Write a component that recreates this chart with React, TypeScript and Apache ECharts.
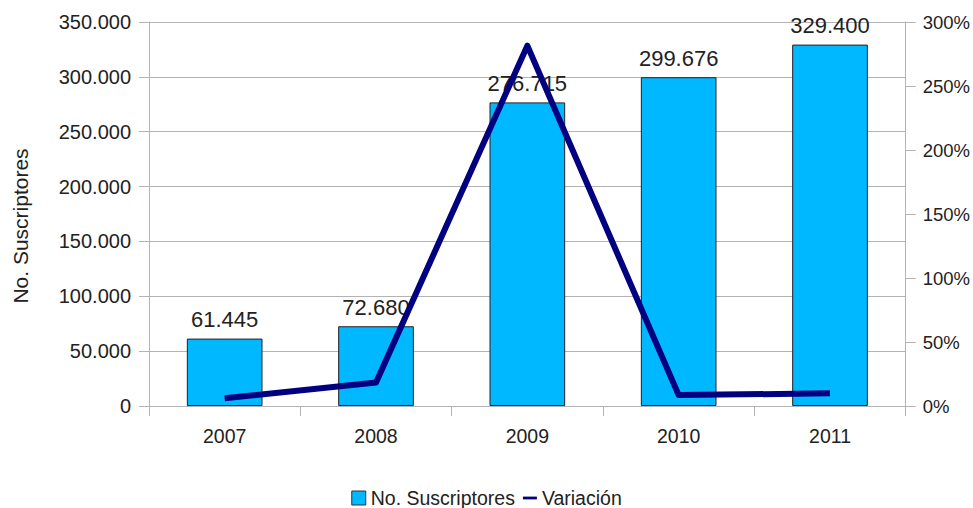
import React, { useEffect, useRef } from "react";
import * as echarts from "echarts";

const years = ["2007", "2008", "2009", "2010", "2011"];
const suscriptores = [61445, 72680, 276715, 299676, 329400];
const variacion = [6, 18.3, 281.5, 8.5, 9.9];

const fmtThousands = (v: number) =>
  String(Math.round(v)).replace(/\B(?=(\d{3})+(?!\d))/g, ".");

export default function App() {
  const ref = useRef<HTMLDivElement>(null);
  useEffect(() => {
    if (!ref.current) return;
    const chart = echarts.init(ref.current, undefined, { renderer: "svg" });
    const font = "Liberation Sans, Arial, sans-serif";
    chart.setOption({
      animation: false,
      textStyle: { fontFamily: font },
      grid: { left: 149, right: 67, top: 22, bottom: 102, containLabel: false },
      legend: {
        bottom: 0,
        left: "center",
        padding: 0,
        itemGap: 8,
        itemWidth: 14,
        itemHeight: 14,
        textStyle: { fontSize: 19.5, color: "#222", fontFamily: font },
        data: [
          { name: "No. Suscriptores", icon: "rect", itemStyle: { borderColor: "#333", borderWidth: 1 } },
          { name: "Variación", icon: "path://M0,5.5 L20,5.5 L20,9.5 L0,9.5 Z", itemStyle: { color: "#000080" } },
        ],
      },
      xAxis: {
        type: "category",
        data: years,
        axisLine: { show: true, lineStyle: { color: "#b3b3b3" } },
        axisTick: { show: true, length: 10, lineStyle: { color: "#b3b3b3" }, alignWithLabel: false },
        axisLabel: { fontSize: 19.5, color: "#222", margin: 20, fontFamily: font },
      },
      yAxis: [
        {
          type: "value",
          min: 0,
          max: 350000,
          interval: 50000,
          name: "No. Suscriptores",
          nameLocation: "middle",
          nameGap: 118,
          nameRotate: 90,
          nameTextStyle: { fontSize: 21, color: "#222", fontFamily: font, padding: [0, 24, 0, 0] },
          axisLine: { show: true, lineStyle: { color: "#b3b3b3" } },
          axisTick: { show: true, length: 10, lineStyle: { color: "#b3b3b3" } },
          axisLabel: { fontSize: 20, color: "#222", margin: 18, formatter: (v: number) => fmtThousands(v), fontFamily: font },
          splitLine: { show: true, lineStyle: { color: "#b3b3b3" } },
        },
        {
          type: "value",
          min: 0,
          max: 300,
          interval: 50,
          position: "right",
          axisLine: { show: true, lineStyle: { color: "#b3b3b3" } },
          axisTick: { show: true, length: 10, lineStyle: { color: "#b3b3b3" } },
          axisLabel: { fontSize: 18.5, color: "#222", margin: 17, formatter: "{value}%", fontFamily: font },
          splitLine: { show: false },
        },
      ],
      series: [
        {
          name: "No. Suscriptores",
          type: "bar",
          data: suscriptores,
          barWidth: "50%",
          itemStyle: { color: "#00b8ff", borderColor: "#222", borderWidth: 1 },
          label: {
            show: true,
            position: "top",
            distance: 8,
            fontSize: 22,
            color: "#222",
            fontFamily: font,
            formatter: (p: any) => fmtThousands(p.value),
          },
          z: 2,
        },
        {
          name: "Variación",
          type: "line",
          yAxisIndex: 1,
          data: variacion,
          showSymbol: false,
          symbol: "none",
          lineStyle: { color: "#000080", width: 6, join: "round" },
          itemStyle: { color: "#000080" },
          z: 3,
        },
      ],
    });
    return () => chart.dispose();
  }, []);
  return (
    <div
      ref={ref}
      style={{ position: "absolute", left: 0, top: 0, width: 973, height: 508 }}
    />
  );
}
